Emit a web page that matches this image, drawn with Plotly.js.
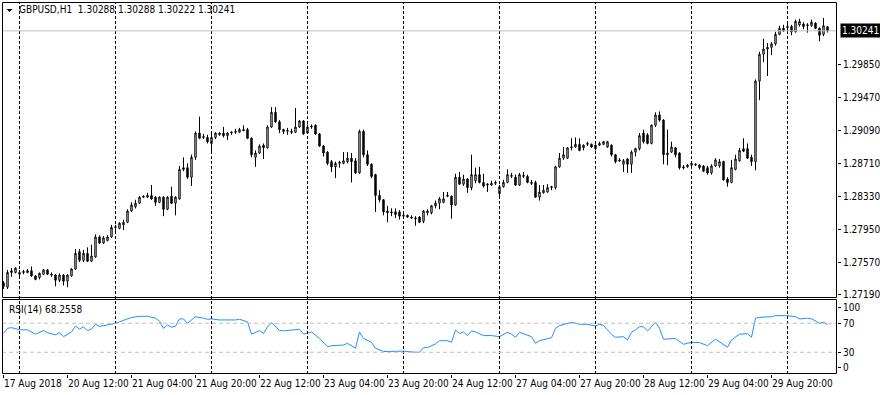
<!DOCTYPE html>
<html>
<head>
<meta charset="utf-8">
<script src="https://cdn.plot.ly/plotly-3.0.1.min.js"></script>
<style>
html,body{margin:0;padding:0;background:#fff;}
#chart{width:880px;height:395px;}
</style>
</head>
<body>
<div id="chart"></div>
<script>
// GBPUSD H1, bars from 17 Aug 2018 20:00 to 30 Aug 2018 10:00
const open = [
1.2733,1.2728,1.2745,1.2745,1.2743,1.2745,1.2745,1.2747,1.2741,1.2739,
1.2743,1.2748,1.2743,1.2742,1.2736,1.2742,1.2735,1.2741,1.2749,1.2769,
1.2759,1.2767,1.2758,1.2763,1.2786,1.2779,1.2782,1.2786,1.2797,1.2796,
1.2800,1.2803,1.2816,1.2821,1.2825,1.2832,1.2832,1.2834,1.2832,1.2826,
1.2832,1.2818,1.2833,1.2825,1.2830,1.2864,1.2866,1.2855,1.2878,1.2906,
1.2901,1.2901,1.2894,1.2901,1.2904,1.2906,1.2903,1.2906,1.2907,1.2907,
1.2910,1.2910,1.2900,1.2878,1.2883,1.2892,1.2889,1.2913,1.2930,1.2919,
1.2910,1.2908,1.2908,1.2907,1.2913,1.2920,1.2906,1.2913,1.2915,1.2905,
1.2891,1.2884,1.2873,1.2867,1.2871,1.2871,1.2873,1.2877,1.2874,1.2860,
1.2908,1.2881,1.2870,1.2858,1.2834,1.2829,1.2816,1.2815,1.2815,1.2815,
1.2810,1.2811,1.2809,1.2808,1.2809,1.2804,1.2814,1.2814,1.2822,1.2825,
1.2826,1.2833,1.2833,1.2823,1.2855,1.2847,1.2853,1.2843,1.2851,1.2858,
1.2849,1.2846,1.2846,1.2848,1.2836,1.2844,1.2849,1.2856,1.2855,1.2846,
1.2856,1.2856,1.2849,1.2849,1.2832,1.2837,1.2838,1.2843,1.2843,1.2867,
1.2877,1.2877,1.2889,1.2890,1.2893,1.2889,1.2893,1.2893,1.2888,1.2892,
1.2893,1.2890,1.2892,1.2881,1.2875,1.2870,1.2876,1.2870,1.2884,1.2888,
1.2906,1.2904,1.2894,1.2915,1.2927,1.2921,1.2881,1.2884,1.2889,1.2883,
1.2867,1.2867,1.2869,1.2869,1.2869,1.2868,1.2866,1.2860,1.2868,1.2868,
1.2873,1.2853,1.2849,1.2864,1.2874,1.2888,1.2888,1.2878,1.2873,1.2966,
1.2997,1.3003,1.3005,1.3009,1.3020,1.3027,1.3029,1.3029,1.3023,1.3031,
1.3032,1.3030,1.3030,1.3033,1.3027,1.3020,1.30288];
const high = [
1.2735,1.2748,1.2750,1.2751,1.2748,1.2748,1.2749,1.2752,1.2742,1.2745,
1.2749,1.2749,1.2745,1.2743,1.2744,1.2743,1.2743,1.2750,1.2772,1.2772,
1.2771,1.2774,1.2777,1.2789,1.2788,1.2787,1.2788,1.2800,1.2800,1.2803,
1.2806,1.2818,1.2826,1.2829,1.2833,1.2834,1.2837,1.2846,1.2833,1.2833,
1.2833,1.2833,1.2844,1.2833,1.2868,1.2878,1.2871,1.2881,1.2908,1.2925,
1.2905,1.2904,1.2906,1.2907,1.2907,1.2913,1.2907,1.2908,1.2911,1.2912,
1.2915,1.2912,1.2901,1.2886,1.2893,1.2894,1.2915,1.2936,1.2936,1.2921,
1.2911,1.2912,1.2911,1.2935,1.2921,1.2921,1.2916,1.2916,1.2916,1.2906,
1.2892,1.2885,1.2875,1.2873,1.2874,1.2884,1.2884,1.2883,1.2877,1.2910,
1.2910,1.2886,1.2871,1.2859,1.2840,1.2830,1.2822,1.2819,1.2819,1.2817,
1.2814,1.2812,1.2811,1.2810,1.2810,1.2817,1.2818,1.2823,1.2828,1.2832,
1.2838,1.2838,1.2834,1.2859,1.2861,1.2858,1.2854,1.2881,1.2866,1.2867,
1.2859,1.2848,1.2851,1.2851,1.2846,1.2852,1.2864,1.2860,1.2858,1.2860,
1.2861,1.2858,1.2852,1.2851,1.2846,1.2846,1.2847,1.2845,1.2868,1.2883,
1.2890,1.2890,1.2900,1.2901,1.2900,1.2893,1.2896,1.2894,1.2893,1.2896,
1.2897,1.2897,1.2893,1.2882,1.2877,1.2876,1.2877,1.2886,1.2889,1.2906,
1.2910,1.2906,1.2916,1.2930,1.2931,1.2922,1.2910,1.2896,1.2890,1.2884,
1.2869,1.2870,1.2873,1.2871,1.2870,1.2869,1.2868,1.2870,1.2877,1.2876,
1.2874,1.2855,1.2875,1.2881,1.2889,1.2900,1.2894,1.2881,1.2968,1.3000,
1.3015,1.3010,1.3011,1.3023,1.3030,1.3031,1.3032,1.3031,1.3037,1.3038,
1.3034,1.3033,1.3037,1.3034,1.3028,1.3039,1.30288];
const low = [
1.2726,1.2726,1.2740,1.2744,1.2741,1.2743,1.2744,1.2740,1.2736,1.2737,
1.2742,1.2742,1.2740,1.2729,1.2734,1.2730,1.2728,1.2740,1.2748,1.2757,
1.2757,1.2757,1.2757,1.2762,1.2778,1.2778,1.2781,1.2785,1.2792,1.2795,
1.2794,1.2802,1.2815,1.2819,1.2824,1.2831,1.2831,1.2829,1.2822,1.2825,
1.2810,1.2817,1.2824,1.2811,1.2829,1.2862,1.2853,1.2845,1.2875,1.2899,
1.2899,1.2894,1.2884,1.2899,1.2903,1.2901,1.2898,1.2904,1.2905,1.2906,
1.2908,1.2899,1.2878,1.2867,1.2882,1.2876,1.2888,1.2912,1.2918,1.2906,
1.2905,1.2904,1.2905,1.2906,1.2912,1.2904,1.2905,1.2911,1.2904,1.2890,
1.2879,1.2869,1.2861,1.2854,1.2866,1.2870,1.2871,1.2849,1.2859,1.2859,
1.2878,1.2868,1.2854,1.2815,1.2826,1.2811,1.2803,1.2810,1.2808,1.2806,
1.2807,1.2808,1.2807,1.2799,1.2802,1.2802,1.2811,1.2812,1.2819,1.2818,
1.2825,1.2832,1.2807,1.2822,1.2846,1.2845,1.2837,1.2840,1.2848,1.2848,
1.2843,1.2838,1.2845,1.2846,1.2833,1.2843,1.2848,1.2854,1.2845,1.2845,
1.2854,1.2848,1.2846,1.2831,1.2828,1.2836,1.2837,1.2840,1.2841,1.2866,
1.2875,1.2876,1.2886,1.2889,1.2885,1.2886,1.2891,1.2889,1.2886,1.2891,
1.2892,1.2889,1.2879,1.2871,1.2873,1.2861,1.2860,1.2860,1.2879,1.2886,
1.2894,1.2893,1.2893,1.2913,1.2919,1.2870,1.2869,1.2883,1.2878,1.2864,
1.2864,1.2866,1.2868,1.2868,1.2864,1.2861,1.2858,1.2858,1.2867,1.2866,
1.2851,1.2844,1.2848,1.2863,1.2873,1.2884,1.2876,1.2868,1.2863,1.2944,
1.2988,1.2972,1.2996,1.3007,1.3019,1.3023,1.3022,1.3019,1.3022,1.3029,
1.3026,1.3022,1.3029,1.3026,1.3012,1.3018,1.30222];
const close = [
1.2729,1.2745,1.2747,1.2750,1.2745,1.2746,1.2747,1.2741,1.2737,1.2744,
1.2748,1.2743,1.2742,1.2736,1.2742,1.2735,1.2742,1.2749,1.2767,1.2759,
1.2767,1.2758,1.2764,1.2786,1.2779,1.2785,1.2786,1.2797,1.2798,1.2802,
1.2803,1.2816,1.2823,1.2825,1.2832,1.2833,1.2834,1.2830,1.2826,1.2832,
1.2818,1.2832,1.2825,1.2832,1.2864,1.2866,1.2855,1.2878,1.2906,1.2900,
1.2902,1.2896,1.2901,1.2906,1.2906,1.2903,1.2906,1.2907,1.2908,1.2910,
1.2909,1.2900,1.2881,1.2883,1.2891,1.2889,1.2913,1.2930,1.2919,1.2910,
1.2908,1.2909,1.2907,1.2913,1.2920,1.2905,1.2913,1.2914,1.2905,1.2891,
1.2883,1.2871,1.2867,1.2871,1.2872,1.2874,1.2877,1.2873,1.2860,1.2908,
1.2881,1.2870,1.2856,1.2834,1.2829,1.2815,1.2814,1.2814,1.2812,1.2810,
1.2811,1.2809,1.2808,1.2807,1.2803,1.2816,1.2816,1.2822,1.2825,1.2830,
1.2830,1.2834,1.2823,1.2855,1.2847,1.2853,1.2843,1.2858,1.2858,1.2849,
1.2845,1.2847,1.2848,1.2849,1.2844,1.2849,1.2858,1.2857,1.2846,1.2858,
1.2857,1.2849,1.2848,1.2832,1.2838,1.2840,1.2843,1.2844,1.2867,1.2877,
1.2881,1.2889,1.2890,1.2893,1.2886,1.2892,1.2894,1.2890,1.2892,1.2894,
1.2896,1.2896,1.2881,1.2873,1.2874,1.2874,1.2870,1.2884,1.2888,1.2903,
1.2896,1.2894,1.2915,1.2927,1.2921,1.2881,1.2883,1.2890,1.2881,1.2866,
1.2866,1.2869,1.2871,1.2870,1.2866,1.2862,1.2860,1.2868,1.2875,1.2873,
1.2852,1.2849,1.2866,1.2876,1.2886,1.2885,1.2877,1.2873,1.2966,1.2997,
1.3003,1.3005,1.3009,1.3020,1.3027,1.3024,1.3028,1.3023,1.3035,1.3035,
1.3029,1.3031,1.3034,1.3027,1.3019,1.3030,1.30241];

// RSI(14) readings: bar index and value
const rsiBar = [0,1,2,3,4,6,8,10,11,13,14,15,17,18,19,20,21,22,23,24,25,27,28,29,30,31,32,34,36,38,39,40,41,42,43,44,45,46,47,48,50,51,52,54,58,59,61,62,63,64,65,66,67,69,70,74,75,77,79,81,82,85,86,88,89,90,92,93,95,98,100,103,104,105,106,108,109,111,112,113,114,115,116,117,118,120,122,124,126,127,128,129,131,132,133,134,137,138,139,141,142,144,146,148,149,150,152,153,155,156,157,158,159,160,161,163,164,165,168,170,172,174,176,178,179,181,182,184,186,187,188,189,192,193,196,198,199,201,202,204,205,206];
const rsiVal = [56,63,64,63,61,61,55,60,57,54,57,51.5,58,66,62,65,60,62,68.6,65.5,66.5,68.6,70,72,74,76.5,78,79.6,79.6,77,73,63,67.6,64.5,66,76,76,70,74.6,79,77,75.5,76,74.6,74.6,75.5,72,55,57.5,59.9,56,65,71,60,59.5,61.7,55,58,49,37.7,39,40,42.4,35.5,58,49,43.8,35.5,31,31,31.5,30,30,36.4,36.5,41.5,46,45.8,43.8,60.8,56,58,53,59.4,58,53,53,51.5,57.6,55,50.7,57.6,53,51.5,42.4,46,50,63,66.7,70,71.4,68.6,68.6,66.3,68.6,67,54.8,50.7,51.5,47,57.6,60.8,65.3,65.3,59.4,71.4,63,48,49,41,43.8,43.4,39,48,44,37,47,55,55.5,50.7,76.9,78.3,79,80.5,80.5,79,76,77,76,70,71.4,68.2558];

const priceTicks = [1.27190,1.27570,1.27950,1.28330,1.28710,1.29090,1.29470,1.29850];
const timeTickBars = [0,16,32,48,64,80,96,112,128,144,160,176,192];
const timeTickText = ['17 Aug 2018','20 Aug 12:00','21 Aug 04:00','21 Aug 20:00','22 Aug 12:00','23 Aug 04:00','23 Aug 20:00','24 Aug 12:00','27 Aug 04:00','27 Aug 20:00','28 Aug 12:00','29 Aug 04:00','29 Aug 20:00'];
const dayStartBars = [4,28,52,76,100,124,148,172,196];
const rsiLevels = [70,30];
const rsiTickVals = [91.7,70,30,8.7];
const rsiTickText = ['100','70','30','0'];

const bars = open.map((_, i) => i);
const last = open.length - 1;
const FONT = "'DejaVu Sans Condensed', 'Liberation Sans', Arial, sans-serif";

const traces = [
  {
    type: 'candlestick', x: bars, open: open, high: high, low: low, close: close,
    xaxis: 'x', yaxis: 'y',
    increasing: {line: {color: '#000', width: 1}, fillcolor: '#fff'},
    decreasing: {line: {color: '#000', width: 1}, fillcolor: '#000'},
    whiskerwidth: 0, hoverinfo: 'skip', showlegend: false
  },
  {
    type: 'scatter', mode: 'lines', x: rsiBar, y: rsiVal,
    xaxis: 'x', yaxis: 'y2',
    line: {color: '#1e90ff', width: 1}, hoverinfo: 'skip', showlegend: false
  }
];

// panel geometry in paper units (plot area 835 x 372 px)
const mainBottom = 0.20565, rsiTop = 0.20027;
const hx = 0.5 / 835, hy = 0.5 / 372;
const shapes = [];
dayStartBars.forEach(d => shapes.push({
  type: 'line', xref: 'x', yref: 'paper', x0: d, x1: d, y0: 0, y1: 1,
  line: {color: '#000', width: 1, dash: '3px,2px'}
}));
shapes.push({type: 'line', xref: 'paper', yref: 'y', x0: 0, x1: 1, y0: close[last], y1: close[last],
  line: {color: '#c0c0c0', width: 1}});
rsiLevels.forEach(v => shapes.push({type: 'line', xref: 'paper', yref: 'y2', x0: 0, x1: 1, y0: v, y1: v,
  line: {color: '#c0c0c0', width: 1, dash: '4px,3px'}}));
shapes.push({type: 'rect', xref: 'paper', yref: 'paper', x0: hx, x1: 1 - hx, y0: mainBottom, y1: 1 - hy,
  line: {color: '#000', width: 1}});
shapes.push({type: 'rect', xref: 'paper', yref: 'paper', x0: hx, x1: 1 - hx, y0: hy, y1: rsiTop,
  line: {color: '#000', width: 1}});
shapes.push({type: 'path', xref: 'paper', yref: 'paper',
  path: 'M 0.0054 0.9812 L 0.0126 0.9812 L 0.0090 0.9730 Z',
  fillcolor: '#000', line: {color: '#000', width: 0}});

const annotations = [
  {xref: 'paper', yref: 'paper', x: 0.0185, y: 0.9785, xanchor: 'left', yanchor: 'middle', showarrow: false,
   text: 'GBPUSD,H1\u00a0\u00a0' + [open[last], high[last], low[last], close[last]].map(v => v.toFixed(5)).join(' '),
   font: {family: FONT, size: 10, color: '#000'}},
  {xref: 'paper', yref: 'paper', x: 0.0055, y: 0.1747, xanchor: 'left', yanchor: 'middle', showarrow: false,
   text: 'RSI(14) ' + rsiVal[rsiVal.length - 1].toFixed(4),
   font: {family: FONT, size: 10, color: '#000'}},
  {xref: 'paper', yref: 'y', x: 1, y: close[last], xanchor: 'left', yanchor: 'middle', xshift: 3, showarrow: false,
   text: close[last].toFixed(5), bgcolor: '#000', borderpad: 1,
   font: {family: FONT, size: 10, color: '#fff'}}
];

const layout = {
  width: 880, height: 395,
  margin: {l: 2, r: 43, t: 2, b: 21, pad: 0},
  paper_bgcolor: '#fff', plot_bgcolor: '#fff',
  font: {family: FONT, size: 10, color: '#000'},
  showlegend: false,
  boxgap: 0.5,
  xaxis: {
    domain: [0, 1], anchor: 'y2', range: [-0.375, 208.375],
    tickvals: timeTickBars, ticktext: timeTickText, tickangle: 0,
    ticks: 'outside', ticklen: 3, tickcolor: '#000', tickwidth: 1,
    ticklabelposition: 'outside right',
    showgrid: false, zeroline: false, showline: false,
    rangeslider: {visible: false}, fixedrange: true,
    tickfont: {family: FONT, size: 10, color: '#000'}
  },
  yaxis: {
    domain: [mainBottom, 1], anchor: 'x', side: 'right',
    range: [1.27161, 1.30574],
    tickvals: priceTicks, tickformat: '.5f',
    ticks: 'outside', ticklen: 3, tickcolor: '#000',
    showgrid: false, zeroline: false, showline: false,
    tickfont: {family: FONT, size: 10, color: '#000'}
  },
  yaxis2: {
    domain: [0, rsiTop], anchor: 'x', side: 'right',
    range: [0, 102.8],
    tickvals: rsiTickVals, ticktext: rsiTickText,
    ticks: 'outside', ticklen: 3, tickcolor: '#000',
    showgrid: false, zeroline: false, showline: false,
    tickfont: {family: FONT, size: 10, color: '#000'}
  },
  shapes: shapes,
  annotations: annotations
};

Plotly.newPlot('chart', traces, layout, {staticPlot: true, displayModeBar: false});
</script>
</body>
</html>
